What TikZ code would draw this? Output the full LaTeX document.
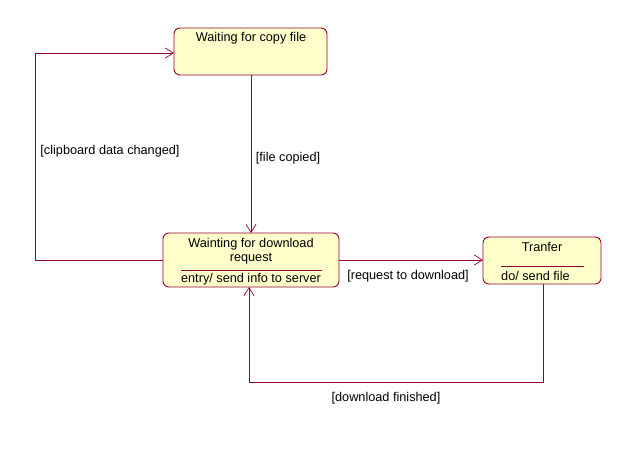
\documentclass[tikz,border=0pt]{standalone}
\usepackage{fontspec}
\setmainfont{Liberation Sans}
\usetikzlibrary{arrows.meta}
\definecolor{edge}{HTML}{990033}
\definecolor{fillc}{HTML}{FFFFCC}
\tikzset{
  statebox/.style={draw=edge, fill=fillc, rounded corners=6pt, line width=0.9pt},
  conn/.style={draw=edge, line width=0.9pt, -{Straight Barb[length=8pt,width=10pt,line width=0.7pt]}},
  lbl/.style={font=\fontsize{12.7}{14}\selectfont, inner sep=0pt, anchor=center},
  sep/.style={draw=edge, line width=0.8pt}
}
\begin{document}
\begin{tikzpicture}[x=1pt,y=-1pt]
\useasboundingbox (0,0) rectangle (636,457);
% boxes
\path[statebox] (174,28) rectangle (327,75);
\node[lbl] (t1) at (251,38) {Waiting for copy file};
\path[statebox] (163,233) rectangle (339,287);
\node[lbl] (t2a) at (251,244) {Wainting for download};
\node[lbl] (t2b) at (251,259) {request};
\draw[sep] (181,270) -- (322,270);
\node[lbl] (t2c) at (251,279) {entry/ send info to server};
\path[statebox] (483,237) rectangle (601,284);
\node[lbl] (t3a) at (542,247) {Tranfer};
\draw[sep] (501,266) -- (584,266);
\node[lbl, anchor=west] (t3b) at (501,276) {do/ send file};
% coordinates
\coordinate (b1bot) at (251,75);
\coordinate (b2top) at (251,233);
\coordinate (b1left) at (174,53);
\coordinate (b2left) at (163,260);
\coordinate (b2right) at (339,260);
\coordinate (b3left) at (483,260);
\coordinate (b3bot) at (543,284);
\coordinate (b2bot) at (249,287);
% connectors
\draw[conn] (b1bot) -- (b2top);
\draw[conn] (b2left) -- (35,260) -- (35,53) -- (b1left);
\draw[conn] (b2right) -- (b3left);
\draw[conn] (b3bot) -- (543,382) -- (249,382) -- (b2bot);
% labels
\node[lbl] (l1) at (288,158) {[file copied]};
\node[lbl] (l2) at (110,151) {[clipboard data changed]};
\node[lbl] (l3) at (408,276) {[request to download]};
\node[lbl] (l4) at (386,398) {[download finished]};
\end{tikzpicture}
\end{document}
